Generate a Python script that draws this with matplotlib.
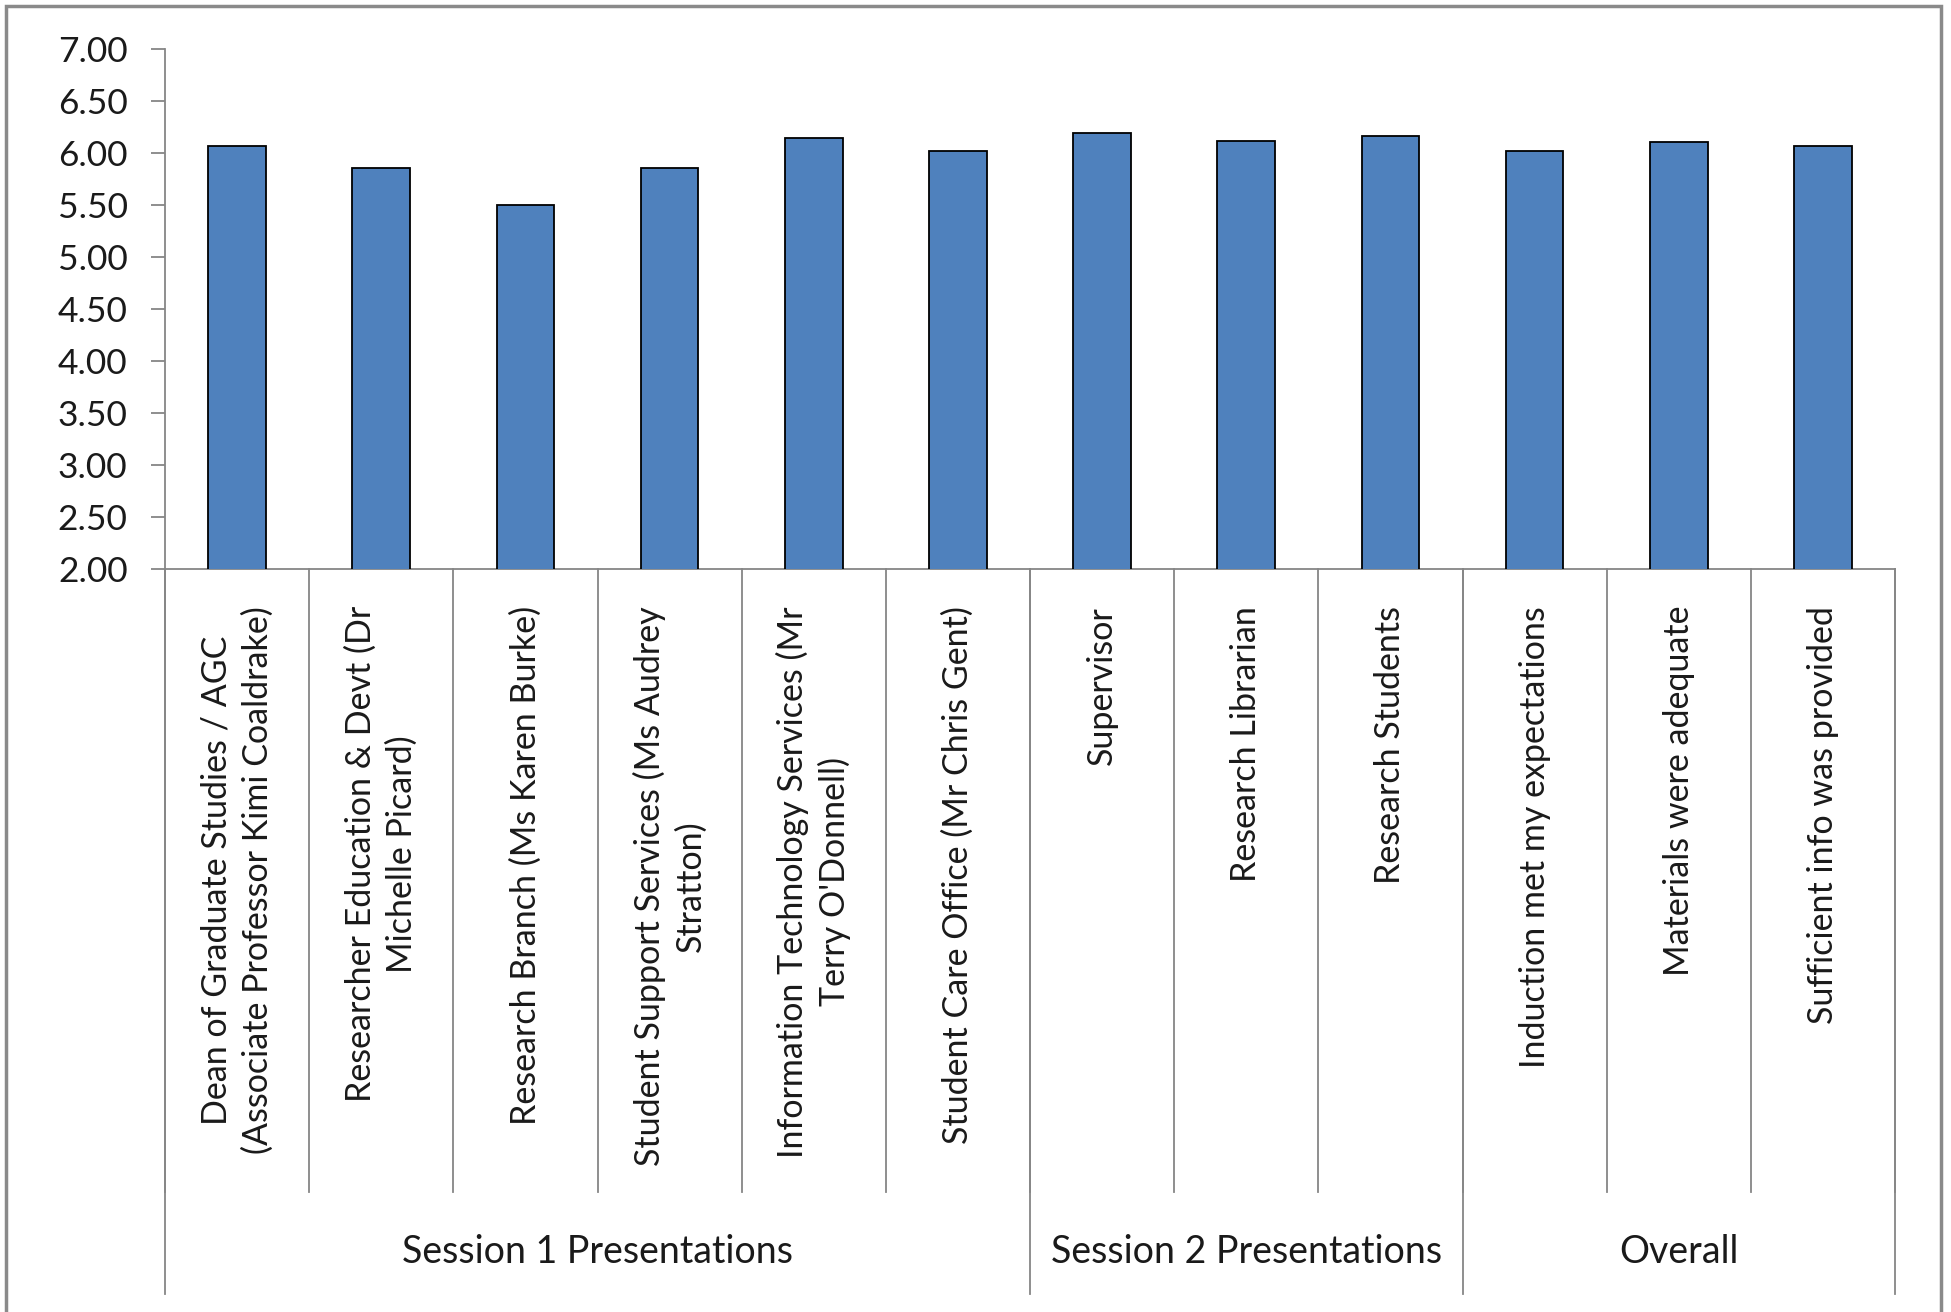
import matplotlib
matplotlib.use("Agg")
import matplotlib.pyplot as plt
from matplotlib.patches import Rectangle
import matplotlib.transforms as mtransforms

# ---------------- data ----------------
categories = [
    "Dean of Graduate Studies / AGC\n(Associate Professor Kimi Coaldrake)",
    "Researcher Education & Devt (Dr\nMichelle Picard)",
    "Research Branch (Ms Karen Burke)",
    "Student Support Services (Ms Audrey\nStratton)",
    "Information Technology Services (Mr\nTerry O'Donnell)",
    "Student Care Office (Mr Chris Gent)",
    "Supervisor",
    "Research Librarian",
    "Research Students",
    "Induction met my expectations",
    "Materials were adequate",
    "Sufficient info was provided",
]
values = [6.07, 5.86, 5.50, 5.86, 6.14, 6.02, 6.19, 6.12, 6.16, 6.02, 6.11, 6.07]
groups = ["Session 1 Presentations", "Session 2 Presentations", "Overall"]
group_sizes = [6, 3, 3]
yticks = [2.00, 2.50, 3.00, 3.50, 4.00, 4.50, 5.00, 5.50, 6.00, 6.50, 7.00]

# ---------------- style ----------------
W, H = 1951, 1312
FONT = "Lato"
FS_TICK = 25.5
FS_CAT = 24.5
FS_GRP = 27
AXCOL = "#868686"
BARCOL = "#4F81BD"
TXT = "#1a1a1a"

fig = plt.figure(figsize=(W / 100, H / 100), dpi=100)
ax_l, ax_r, ax_t, ax_b = 165, 1895, 49, 569
ax = fig.add_axes([ax_l / W, 1 - ax_b / H, (ax_r - ax_l) / W, (ax_b - ax_t) / H])
axh = ax_b - ax_t

def ay(py):
    """pixel y (from top) -> axes fraction"""
    return (ax_b - py) / axh

n = len(values)
xs = [i + 0.5 for i in range(n)]
ax.bar(xs, values, width=0.4, bottom=0, color=BARCOL, edgecolor="black", linewidth=1.3, zorder=3)
ax.set_xlim(0, n)
ax.set_ylim(2.0, 7.0)
ax.set_yticks(yticks)
ax.set_yticklabels([f"{v:.2f}" for v in yticks], fontsize=FS_TICK, family=FONT, color=TXT)
ax.tick_params(axis="y", length=10, width=1.3, color=AXCOL, pad=17)
ax.set_xticks([])
for s in ["top", "right"]:
    ax.spines[s].set_visible(False)
for s in ["left", "bottom"]:
    ax.spines[s].set_color(AXCOL)
    ax.spines[s].set_linewidth(1.3)

trans = mtransforms.blended_transform_factory(ax.transData, ax.transAxes)

# category separator lines
for b in range(n + 1):
    ax.plot([b, b], [0, ay(1192)], transform=trans, color=AXCOL, lw=1.3, clip_on=False)
# group separators
edges = [0]
for g in group_sizes:
    edges.append(edges[-1] + g)
for e in edges:
    ax.plot([e, e], [0, ay(1294)], transform=trans, color=AXCOL, lw=1.3, clip_on=False)

# category labels
for x, lab in zip(xs, categories):
    ax.text(x, ay(606), lab, transform=trans, rotation=90, ha="center", va="top",
            multialignment="center", fontsize=FS_CAT, family=FONT, color=TXT, linespacing=1.34)

# group labels
for i, g in enumerate(groups):
    cx = (edges[i] + edges[i + 1]) / 2
    ax.text(cx, ay(1252), g, transform=trans, ha="center", va="center",
            fontsize=FS_GRP, family=FONT, color=TXT)

# outer chart border (bottom edge beyond canvas)
fig.patches.append(Rectangle((6 / W, -0.05), (1941 - 6) / W, 1 - 6 / H + 0.05,
                             transform=fig.transFigure, fill=False,
                             edgecolor="#8a8a8a", linewidth=2.5))

fig.savefig("out.png", dpi=100, facecolor="white")
